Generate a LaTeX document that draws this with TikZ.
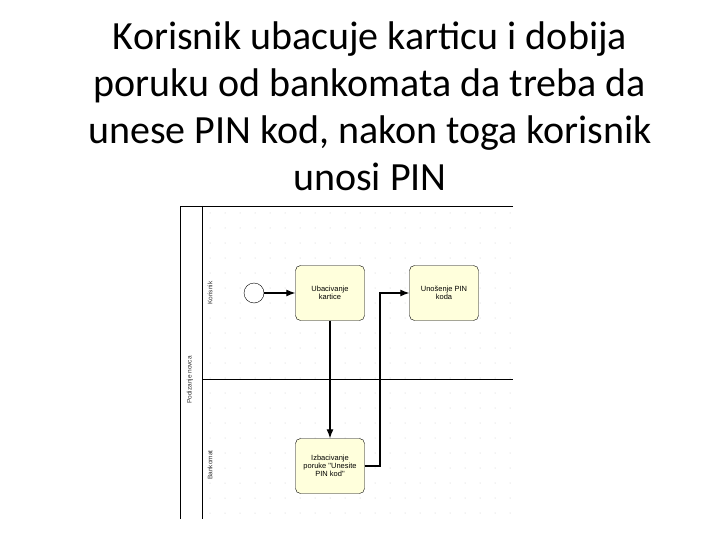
\documentclass[tikz,border=0pt]{standalone}
\usepackage{fontspec}
\setmainfont{Carlito}
\newfontfamily\diagfont{Liberation Sans}
\usepackage{tikz}
\usetikzlibrary{arrows.meta}
\usepackage{xcolor}
\definecolor{taskfill}{HTML}{FFFFDC}
\definecolor{gridgray}{HTML}{C8C8C8}

\begin{document}
\begin{tikzpicture}[x=1pt, y=-1pt,
  task/.style={draw, rounded corners=5pt, fill=taskfill, minimum width=69pt, minimum height=55pt,
    align=center, font=\diagfont\fontsize{7.5}{8}\selectfont, inner sep=1pt},
  flow/.style={-{Latex[length=9pt,width=7pt]}, line width=1.1pt},
  lanelabel/.style={rotate=90, font=\diagfont\fontsize{6.5}{7}\selectfont, text=black!80}]
  \useasboundingbox (0,0) rectangle (720,540);
  \fill[white] (0,0) rectangle (720,540);
  % title
  \node[align=center, font=\fontsize{40}{47}\selectfont] (title) at (370,106)
    {Korisnik ubacuje karticu i dobija\\poruku od bankomata da treba da\\unese PIN kod, nakon toga korisnik\\unosi PIN};
  % dotted grid
  \foreach \gx in {210,225,...,510}
    \foreach \gy in {213,228,...,516}
      \fill[gridgray] (\gx,\gy) circle (0.5pt);
  % pool and lanes
  \draw[line width=0.8pt] (513,206) -- (180,206) -- (180,519);
  \draw[line width=0.8pt] (202,206) -- (202,519);
  \draw[line width=0.8pt] (202,379) -- (513,379);
  \node[lanelabel] (pool) at (190,380) {Podizanje novca};
  \node[lanelabel] (korisnik) at (210,293) {Korisnik};
  \node[lanelabel] (bankomat) at (210,465) {Bankomat};
  % elements
  \node[draw, circle, minimum size=20pt, inner sep=0pt, fill=white] (start) at (254,293) {};
  \node[task] (ubac) at (330,293) {Ubacivanje\\kartice};
  \node[task] (unos) at (444,293) {Uno\v{s}enje PIN\\koda};
  \node[task] (izbac) at (330,466) {Izbacivanje\\poruke "Unesite\\PIN kod"};
  % flows
  \draw[flow] (start) -- (ubac);
  \draw[flow] (ubac) -- (izbac);
  \draw[flow] (izbac.east) -| (380,293) -- (unos.west);
\end{tikzpicture}
\end{document}
